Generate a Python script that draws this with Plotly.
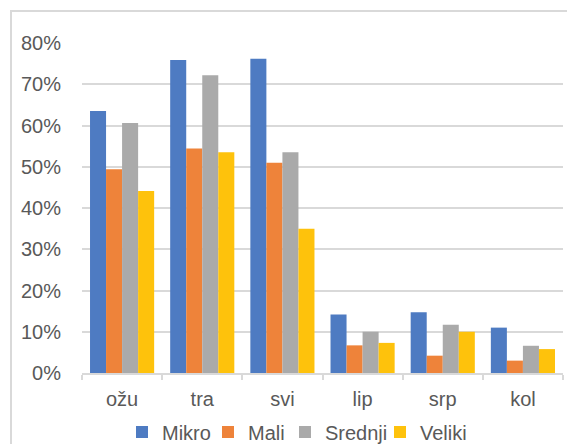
import plotly.graph_objects as go

categories = ["ožu", "tra", "svi", "lip", "srp", "kol"]
series_names = ["Mikro", "Mali", "Srednji", "Veliki"]
mikro = [0.635, 0.759, 0.762, 0.142, 0.147, 0.110]
mali = [0.494, 0.544, 0.510, 0.067, 0.042, 0.030]
srednji = [0.606, 0.722, 0.535, 0.100, 0.117, 0.066]
veliki = [0.441, 0.535, 0.350, 0.073, 0.100, 0.058]
colors = ["#4E7BC2", "#EE833A", "#AAAAAA", "#FEC20C"]
y_tickvals = [0, 0.1, 0.2, 0.3, 0.4, 0.5, 0.6, 0.7, 0.8]

font_color = "#595959"
fs = 20
# page has an 8px body margin, so the figure is 8px smaller than the window
W, H = 567, 436
L, R, T, B = 74, 12, 35, 71
pw, ph = W - L - R, H - T - B

legend_ids = ["legend", "legend2", "legend3", "legend4"]
legend_left_px = [122 - 8, 208 - 8, 285 - 8, 380 - 8]  # figure px of each legend box

fig = go.Figure()
for name, vals, col, lid in zip(series_names, [mikro, mali, srednji, veliki], colors, legend_ids):
    fig.add_trace(go.Bar(x=categories, y=vals, name=name, legend=lid,
                         marker=dict(color=col, line=dict(width=0))))

legend_layouts = {}
for lid, lx in zip(legend_ids, legend_left_px):
    legend_layouts[lid] = dict(orientation="h", x=(lx - L) / pw, xanchor="left",
                               y=-0.179, yanchor="middle",
                               font=dict(size=fs, color=font_color), itemwidth=30,
                               bgcolor="rgba(0,0,0,0)")

fig.update_layout(
    width=W, height=H,
    margin=dict(l=L, r=R, t=T, b=B, autoexpand=False),
    paper_bgcolor="white", plot_bgcolor="white",
    barmode="group", bargap=0.2, bargroupgap=0,
    font=dict(family="Liberation Sans, Arial, sans-serif", size=fs, color=font_color),
    showlegend=True,
    xaxis=dict(showline=True, linecolor="#d9d9d9", linewidth=1.5,
               ticks="outside", tickson="boundaries", ticklen=5,
               tickcolor="#d9d9d9", tickwidth=1.5, ticklabelstandoff=7,
               showgrid=False, tickfont=dict(size=fs, color=font_color)),
    yaxis=dict(range=[0, 0.8], tickvals=y_tickvals, tickformat=".0%",
               showgrid=True, gridcolor="#d9d9d9", gridwidth=1.5,
               zeroline=False, showline=False, ticks="",
               ticklabelstandoff=20, tickfont=dict(size=fs, color=font_color)),
    shapes=[dict(type="rect", xref="paper", yref="paper",
                 x0=(3 - L) / pw, x1=(W + 20 - L) / pw,
                 y0=(T + ph - (H + 20)) / ph, y1=(T + ph - 3) / ph,
                 line=dict(color="#d9d9d9", width=2), fillcolor="rgba(0,0,0,0)",
                 layer="below")],
    **legend_layouts,
)

fig.write_html("out.html")
